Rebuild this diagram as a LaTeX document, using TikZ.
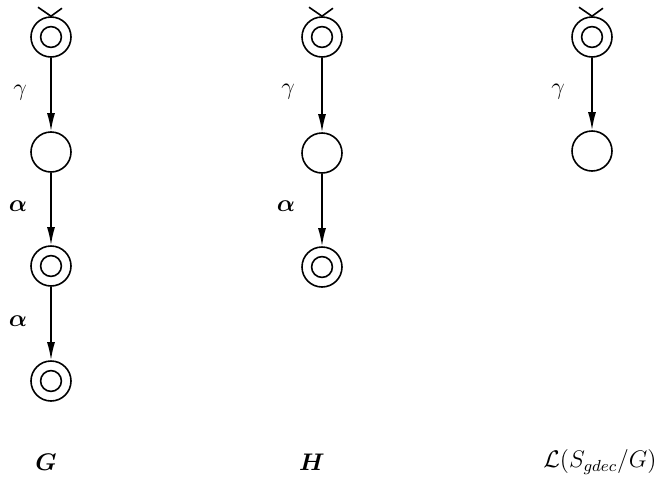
\documentclass[tikz,border=0pt]{standalone}
\usepackage{amsmath,bm}
\usetikzlibrary{arrows.meta,calc}
\begin{document}
\begin{tikzpicture}[x=0.5pt,y=-0.5pt,
  every path/.style={line width=0.8pt},
  state/.style={circle,draw,line width=0.8pt,minimum size=20pt,inner sep=0pt},
  accept/.style={state,path picture={\draw[line width=0.8pt] (path picture bounding box.center) circle (5.2pt);}},
  trans/.style={draw,-{Latex[length=9pt,width=4pt]}},
  lab/.style={inner sep=0pt,font=\large}]
\useasboundingbox (0,0) rectangle (664,477);

% G
\node[accept] (g1) at (51,37) {};
\node[state]  (g2) at (51,152) {};
\node[accept] (g3) at (51,266) {};
\node[accept] (g4) at (51,381) {};
\draw[trans] (g1) -- (g2);
\draw[trans] (g2) -- (g3);
\draw[trans] (g3) -- (g4);
\node[lab] (lg1) at (20,93) {$\gamma$};
\node[lab] (lg2) at (18,206) {$\bm{\alpha}$};
\node[lab] (lg3) at (18,321) {$\bm{\alpha}$};
\node[lab] (tg) at (46,462) {$\bm{G}$};

% H
\node[accept] (h1) at (322,37) {};
\node[state]  (h2) at (322,153) {};
\node[accept] (h3) at (322,267) {};
\draw[trans] (h1) -- (h2);
\draw[trans] (h2) -- (h3);
\node[lab] (lh1) at (288,92) {$\gamma$};
\node[lab] (lh2) at (286,206) {$\bm{\alpha}$};
\node[lab] (th) at (312,462) {$\bm{H}$};

% L(S_gdec/G)
\node[accept] (l1) at (592,37) {};
\node[state]  (l2) at (592,151) {};
\draw[trans] (l1) -- (l2);
\node[lab] (ll1) at (558,92) {$\gamma$};
\node[lab] (tl) at (600,462) {$\mathcal{L}(S_{gdec}/G)$};

% initial-state marks
\foreach \n in {g1,h1,l1}{
  \coordinate (\n a) at ($(\n.north)+(-6.5pt,4.5pt)$);
  \coordinate (\n b) at ($(\n.north)+(5.5pt,4pt)$);
  \draw (\n a) -- (\n.north) -- (\n b);
}
\end{tikzpicture}
\end{document}
